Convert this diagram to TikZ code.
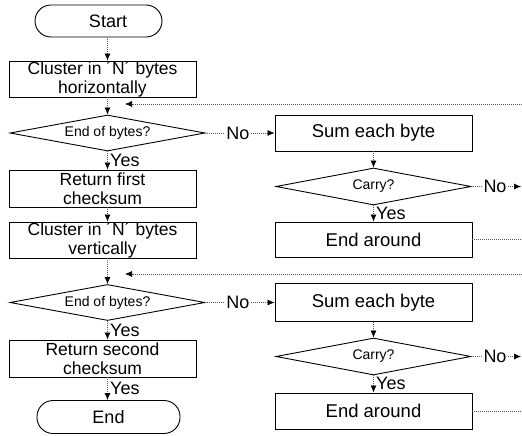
\documentclass[tikz,border=0pt]{standalone}
\usepackage{fontspec}
\setmainfont{Liberation Sans}
\usetikzlibrary{shapes.geometric,arrows.meta}
\tikzset{
  procbox/.style={draw=black, line width=0.9pt, rectangle, align=center, inner sep=0pt, font=\fontsize{17.5}{19}\selectfont},
  termbox/.style={draw=black, line width=0.9pt, rectangle, rounded corners=16pt, inner sep=0pt, font=\fontsize{18}{19}\selectfont},
  decbox/.style={draw=black, line width=0.9pt, diamond, aspect=5.4, inner sep=0pt, font=\fontsize{14}{14}\selectfont},
  lbl/.style={inner sep=1pt, font=\fontsize{18}{18}\selectfont},
  conn/.style={draw=black!65, line width=0.7pt, dash pattern=on 1pt off 1pt},
  arr/.style={conn, -{Latex[length=7pt,width=6pt,black]}}
}
\begin{document}
\begin{tikzpicture}[x=1pt,y=1pt]
\useasboundingbox (0,0) rectangle (522,-436);
\coordinate (ax) at (107.5,0);
\coordinate (re) at (522,0);
% left column
\node[termbox, minimum width=127pt, minimum height=32pt] (start) at (98.5,-21) {\hspace*{19pt}Start};
\node[procbox, minimum width=187pt, minimum height=36pt] (ch) at (102.5,-79) {Cluster in ´N´ bytes\\horizontally};
\node[decbox, minimum width=195pt, minimum height=36pt] (d1) at (107.5,-133) {End of bytes?};
\node[procbox, minimum width=187pt, minimum height=37pt] (rf) at (102.5,-188.5) {Return first\\checksum};
\node[procbox, minimum width=187pt, minimum height=36pt] (cv) at (102.5,-240) {Cluster in ´N´ bytes\\vertically};
\node[decbox, minimum width=195pt, minimum height=36pt] (d2) at (107.5,-302.5) {End of bytes?};
\node[procbox, minimum width=187pt, minimum height=37pt] (rs) at (102.5,-358.5) {Return second\\checksum};
\node[termbox, minimum width=143pt, minimum height=33pt] (end) at (108.5,-417) {End};
% right column
\node[procbox, minimum width=197pt, minimum height=36pt, font=\fontsize{18.5}{19}\selectfont] (sum1) at (373.5,-133) {Sum each byte};
\node[decbox, minimum width=195pt, minimum height=37pt] (c1) at (373.5,-186.5) {Carry?};
\node[procbox, minimum width=197pt, minimum height=35pt, font=\fontsize{18.5}{19}\selectfont] (ea1) at (373.5,-239.5) {End around};
\node[procbox, minimum width=197pt, minimum height=38pt, font=\fontsize{18.5}{19}\selectfont] (sum2) at (373.5,-302.5) {Sum each byte};
\node[decbox, minimum width=195pt, minimum height=37pt] (c2) at (373.5,-356.5) {Carry?};
\node[procbox, minimum width=197pt, minimum height=36pt, font=\fontsize{18.5}{19}\selectfont] (ea2) at (373.5,-411) {End around};
% labels
\node[lbl] (no1) at (238,-133) {No};
\node[lbl] (no2) at (238,-302.5) {No};
\node[lbl] (no3) at (495,-186.5) {No};
\node[lbl] (no4) at (495,-356.5) {No};
\node[lbl, anchor=west] (y1) at (109,-160) {Yes};
\node[lbl, anchor=west] (y2) at (109,-330) {Yes};
\node[lbl, anchor=west] (y3) at (109,-388) {Yes};
\node[lbl, anchor=west] (y4) at (375,-213) {Yes};
\node[lbl, anchor=west] (y5) at (375,-383) {Yes};
\coordinate (r1) at (521,-186.5);
\coordinate (r2) at (521,-356.5);
\coordinate (fb1) at (522,-104);
\coordinate (fb1t) at (125,-104);
\coordinate (fb2) at (522,-274);
\coordinate (fb2t) at (125,-274);
% vertical arrows left
\draw[arr] (start.south -| ax) -- (ch.north -| ax);
\draw[arr] (ch.south -| ax) -- (d1.north);
\draw[arr] (d1.south) -- (rf.north -| ax);
\draw[arr] (rf.south -| ax) -- (cv.north -| ax);
\draw[arr] (cv.south -| ax) -- (d2.north);
\draw[arr] (d2.south) -- (rs.north -| ax);
\draw[arr] (rs.south -| ax) -- (end.north -| ax);
% vertical arrows right
\draw[arr] (sum1.south) -- (c1.north);
\draw[arr] (c1.south) -- (ea1.north);
\draw[arr] (sum2.south) -- (c2.north);
\draw[arr] (c2.south) -- (ea2.north);
% horizontal
\draw[conn] (d1.east) -- (no1.west);
\draw[arr] (no1.east) -- (sum1.west);
\draw[conn] (d2.east) -- (no2.west);
\draw[arr] (no2.east) -- (sum2.west);
\draw[conn] (c1.east) -- (no3.west);
\draw[arr] (no3.east) -- (r1);
\draw[conn] (c2.east) -- (no4.west);
\draw[arr] (no4.east) -- (r2);
\draw[conn] (ea1.east) -- (ea1.east -| re);
\draw[conn] (ea2.east) -- (ea2.east -| re);
\draw[arr] (fb1) -- (fb1t);
\draw[arr] (fb2) -- (fb2t);
\end{tikzpicture}
\end{document}
